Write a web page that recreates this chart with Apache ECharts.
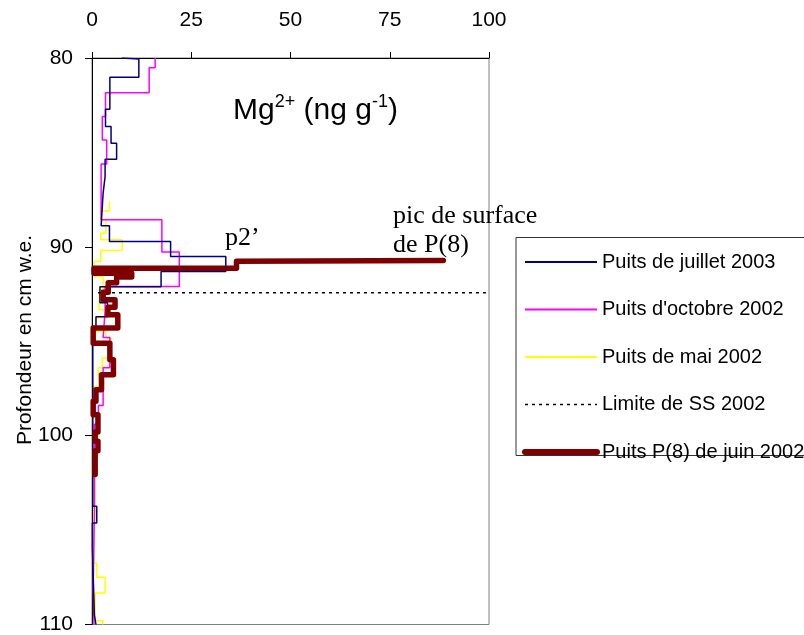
<!DOCTYPE html>
<html>
<head>
<meta charset="utf-8">
<script src="https://cdn.jsdelivr.net/npm/echarts@6/dist/echarts.min.js"></script>
<style>
html,body{margin:0;padding:0;background:#fff;}
#chart{width:804px;height:635px;}
</style>
</head>
<body>
<div id="chart"></div>
<script>
// ---- Data (step profiles: layer boundaries in cm w.e., Mg2+ values in ng/g) ----
const xTicks = [0, 25, 50, 75, 100];
const yTicks = [80, 90, 100, 110];

const juillet2003Depth = [80.0, 80.05, 81.02, 82.71, 83.63, 84.51, 85.36, 86.28, 87.16, 88.89, 89.72, 90.51, 91.31, 92.12, 92.96, 93.70, 94.39, 103.74, 104.62, 106.0, 109.5, 110.0];
const juillet2003Value = [7.5, 11.8, 4.5, 3.4, 4.8, 6.2, 3.3, 2.8, 2.3, 4.4, 19.8, 33.7, 17.4, 2.0, 3.9, 1.0, 0.2, 1.2, 0.1, 0.6, 1.0];

const octobre2002Depth = [80.0, 80.51, 81.84, 83.1, 84.34, 85.62, 88.57, 90.28, 92.10, 93.4, 94.8, 96.4, 98.4, 99.4, 104.0, 108.0, 110.0];
const octobre2002Value = [15.9, 14.4, 3.4, 2.6, 3.7, 2.3, 17.6, 22.0, 3.3, 2.8, 4.5, 2.8, 1.6, 0.6, 0.3, 0.5];

const mai2002Depth = [87.6, 88.1, 88.57, 89.28, 89.63, 90.2, 90.78, 91.57, 92.28, 93.33, 93.76, 94.48, 94.83, 95.89, 96.4, 96.85, 97.4, 97.85, 102.15, 103.54, 106.74, 107.5, 108.33, 109.8, 110.0];
const mai2002Value = [4.4, 2.2, 3.5, 2.2, 7.6, 2.2, 0.5, 2.8, 1.8, 4.0, 1.0, 3.5, 4.8, 2.6, 1.6, 2.0, 0.3, 0.1, 0.8, 0.5, 1.2, 3.3, 0.8, 2.7];

const p8Depth = [90.72, 90.76, 91.13, 91.40, 91.60, 91.9, 92.4, 92.8, 93.2, 93.6, 94.3, 95.1, 95.98, 96.77, 97.57, 98.18, 98.89, 99.8, 100.3, 100.8, 102.06];
const p8Value = [88.5, 36.4, 0.5, 10.0, 6.2, 4.1, 2.8, 5.8, 4.0, 6.5, 0.3, 4.5, 5.4, 2.4, 1.0, 0.3, 1.5, 0.8, 1.5, 0.8];

const limiteSSDepth = 92.43;
const limiteSSRange = [1.5, 100];

const seriesNames = ['Puits de juillet 2003', "Puits d'octobre 2002", 'Puits de mai 2002', 'Limite de SS 2002', 'Puits P(8) de juin 2002'];

function steps(depths, values) {
  const pts = [];
  for (let i = 0; i < values.length; i++) {
    pts.push([values[i], depths[i]]);
    pts.push([values[i], depths[i + 1]]);
  }
  return pts;
}

const chart = echarts.init(document.getElementById('chart'), null, {renderer: 'canvas'});
const font = 'Liberation Sans, Arial, sans-serif';
const serif = 'Liberation Serif, Times New Roman, serif';

const legendData = seriesNames.map(function (n, i) {
  if (i === 4) return {name: n, lineStyle: {width: 6, cap: 'round'}};
  if (i === 3) return {name: n, lineStyle: {width: 1.5, type: [3, 4]}};
  return {name: n, lineStyle: {width: 1.8}};
});

const option = {
  backgroundColor: '#fff',
  animation: false,
  grid: {left: 92, top: 58, width: 397, height: 567, show: true, borderColor: '#808080', borderWidth: 1, backgroundColor: 'transparent'},
  xAxis: {
    type: 'value', position: 'top', min: xTicks[0], max: xTicks[xTicks.length - 1], interval: 25,
    axisLine: {show: true, onZero: false, lineStyle: {color: '#000', width: 1}},
    axisTick: {show: true, inside: false, length: 6, lineStyle: {color: '#000'}},
    axisLabel: {fontFamily: font, fontSize: 21, color: '#000', margin: 27},
    splitLine: {show: false}
  },
  yAxis: {
    type: 'value', inverse: true, min: yTicks[0], max: yTicks[yTicks.length - 1], interval: 10,
    axisLine: {show: true, onZero: false, lineStyle: {color: '#000', width: 1}},
    axisTick: {show: true, inside: false, length: 7, lineStyle: {color: '#000'}},
    axisLabel: {fontFamily: font, fontSize: 21, color: '#000', margin: 19},
    splitLine: {show: false}
  },
  legend: {
    orient: 'vertical', left: 513, top: 238, padding: [14, 5, 5, 9],
    itemWidth: 72, itemHeight: 14, itemGap: 27.5,
    itemStyle: {opacity: 0},
    textStyle: {fontFamily: font, fontSize: 20, color: '#000', lineHeight: 20},
    data: legendData
  },
  series: [
    {name: seriesNames[0], type: 'line', symbol: 'none', showSymbol: false, data: steps(juillet2003Depth, juillet2003Value),
     lineStyle: {color: '#000080', width: 1.5}, itemStyle: {color: '#000080'}, z: 3},
    {name: seriesNames[1], type: 'line', symbol: 'none', showSymbol: false, data: steps(octobre2002Depth, octobre2002Value),
     lineStyle: {color: '#FF00FF', width: 1.5}, itemStyle: {color: '#FF00FF'}, z: 2},
    {name: seriesNames[2], type: 'line', symbol: 'none', showSymbol: false, data: steps(mai2002Depth, mai2002Value),
     lineStyle: {color: '#FFFF00', width: 1.5}, itemStyle: {color: '#FFFF00'}, z: 1},
    {name: seriesNames[3], type: 'line', symbol: 'none', showSymbol: false,
     data: [[limiteSSRange[0], limiteSSDepth], [limiteSSRange[1], limiteSSDepth]],
     lineStyle: {color: '#000', width: 1.5, type: [3, 4]}, itemStyle: {color: '#000'}, z: 4},
    {name: seriesNames[4], type: 'line', symbol: 'none', showSymbol: false, data: steps(p8Depth, p8Value),
     lineStyle: {color: '#800000', width: 5.5, cap: 'round', join: 'round'}, itemStyle: {color: '#800000'}, z: 5}
  ],
  graphic: [
    {type: 'rect', shape: {x: 516, y: 237.5, width: 400, height: 218}, style: {fill: 'none', stroke: '#333', lineWidth: 1}, silent: true},
    {type: 'text', x: 233, y: 111, style: {
      text: 'Mg{sup|2+} (ng g{sup|-1})', fontFamily: font, fontSize: 30, fill: '#000', verticalAlign: 'middle',
      rich: {sup: {fontSize: 18, fontFamily: font, fill: '#000', padding: [0, 0, 18, 0]}}
    }},
    {type: 'text', x: 225, y: 238, style: {text: 'p2\u2019', fontFamily: serif, fontSize: 26, fill: '#000', verticalAlign: 'middle'}},
    {type: 'text', x: 393, y: 216, style: {text: 'pic de surface', fontFamily: serif, fontSize: 26, fill: '#000', verticalAlign: 'middle'}},
    {type: 'text', x: 393, y: 245, style: {text: 'de P(8)', fontFamily: serif, fontSize: 26, fill: '#000', verticalAlign: 'middle'}},
    {type: 'text', x: 25, y: 340, rotation: Math.PI / 2, style: {text: 'Profondeur en cm w.e.', fontFamily: font, fontSize: 21, fill: '#000', align: 'center', verticalAlign: 'middle'}}
  ]
};
chart.setOption(option);
</script>
</body>
</html>
